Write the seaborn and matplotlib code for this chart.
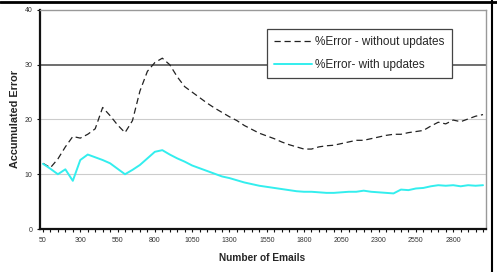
import numpy as np
import pandas as pd
import matplotlib
matplotlib.use("Agg")
import matplotlib.pyplot as plt
import seaborn as sns
from matplotlib.lines import Line2D

emails = list(range(50, 3001, 50))
without_updates = [12.0, 11.2, 12.8, 15.0, 16.9, 16.6, 17.3, 18.3, 22.2, 20.7,
                   19.0, 17.6, 19.8, 25.2, 28.8, 30.4, 31.2, 30.0, 27.8, 26.0,
                   25.0, 24.0, 23.0, 22.1, 21.3, 20.5, 19.8, 18.9, 18.2, 17.5,
                   17.0, 16.5, 15.9, 15.4, 15.0, 14.6, 14.6, 15.0, 15.2, 15.3,
                   15.6, 15.9, 16.2, 16.2, 16.5, 16.8, 17.1, 17.3, 17.3, 17.6,
                   17.8, 18.0, 18.8, 19.5, 19.2, 19.9, 19.6, 20.1, 20.6, 20.9]
with_updates = [11.9, 11.0, 10.0, 10.9, 8.8, 12.6, 13.6, 13.1, 12.6, 12.0,
                11.0, 10.0, 10.8, 11.7, 12.9, 14.1, 14.4, 13.6, 12.9, 12.3,
                11.6, 11.1, 10.6, 10.1, 9.6, 9.3, 8.9, 8.5, 8.2, 7.9,
                7.7, 7.5, 7.3, 7.1, 6.9, 6.8, 6.8, 6.7, 6.6, 6.6,
                6.7, 6.8, 6.8, 7.0, 6.8, 6.7, 6.6, 6.5, 7.2, 7.1,
                7.4, 7.5, 7.8, 8.0, 7.9, 8.0, 7.8, 8.0, 7.9, 8.0]
series_names = ["%Error - without updates", "%Error- with updates"]
y_ticks = [0, 10, 20, 30, 40]

sns.set_theme(style="white")
plt.rcParams['font.family'] = ['Liberation Sans', 'DejaVu Sans']

df = pd.DataFrame({
    "idx": list(range(len(emails))) * 2,
    "Emails": emails * 2,
    "Error": without_updates + with_updates,
    "Series": [series_names[0]] * len(emails) + [series_names[1]] * len(emails),
})

fig = plt.figure(figsize=(4.97, 2.72), dpi=100)
ax = fig.add_axes([40/497, 1 - 229/272, (486 - 40)/497, (229 - 10)/272])

palette = {series_names[0]: "#222222", series_names[1]: "#33EEEE"}
sns.lineplot(data=df[df.Series == series_names[0]], x="idx", y="Error", ax=ax,
             color=palette[series_names[0]], lw=0.9,
             label=series_names[0], linestyle=(0, (5, 3)))
sns.lineplot(data=df[df.Series == series_names[1]], x="idx", y="Error", ax=ax,
             color=palette[series_names[1]], lw=1.4, label=series_names[1])

ax.set_xlim(-0.4, len(emails) - 1 + 0.4)
ax.set_ylim(0, 40)

# grid lines
for yv in [10, 20]:
    ax.axhline(yv, color="#cccccc", lw=0.8, zorder=0)
ax.axhline(30, color="#555555", lw=1.2, zorder=0)

ax.set_yticks(y_ticks)
ax.set_yticklabels([str(v) for v in y_ticks], fontsize=5, color="#333333")
ax.set_xticks(list(range(0, len(emails), 5)))
ax.set_xticklabels([str(emails[i]) for i in range(0, len(emails), 5)],
                   fontsize=5, color="#333333")
ax.set_xticks(list(range(len(emails))), minor=True)
ax.tick_params(axis="both", which="both", direction="out", length=2.5, width=0.8,
               color="#111111", pad=3)
ax.tick_params(axis="x", which="both", bottom=True)
ax.tick_params(axis="y", left=True)

for s in ["left", "bottom"]:
    ax.spines[s].set_color("#111111")
    ax.spines[s].set_linewidth(1.6)
for s in ["top", "right"]:
    ax.spines[s].set_color("#999999")
    ax.spines[s].set_linewidth(1.0)

ax.set_xlabel("Number of Emails", fontsize=7.3, fontweight="bold")
ax.xaxis.set_label_coords((262 - 40)/446, (229 - 253)/219)
ax.set_ylabel("Accumulated Error", fontsize=7.8, fontweight="bold")
ax.yaxis.set_label_coords((20 - 40)/446, 0.5)

leg = ax.legend(loc="upper left", bbox_to_anchor=((267 - 40)/446, (229 - 29)/219),
                fontsize=8.5, frameon=True, fancybox=False, framealpha=1,
                edgecolor="#444444", handlelength=3.2, handletextpad=0.3,
                borderpad=0.6, labelspacing=0.95, borderaxespad=0)
leg.get_frame().set_linewidth(0.9)
leg.set_zorder(5)

# outer figure border (top and right)
fig.add_artist(Line2D([0, 1], [0.994, 0.994], transform=fig.transFigure,
                      color="black", lw=2))
fig.add_artist(Line2D([492/497, 492/497], [0, 1], transform=fig.transFigure,
                      color="black", lw=1.5))

fig.savefig("out.png", dpi=100)
